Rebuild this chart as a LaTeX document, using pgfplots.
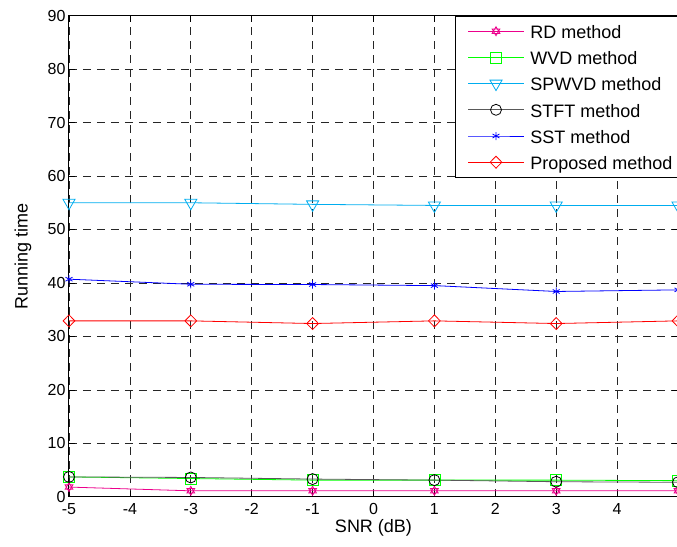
\documentclass[border=0pt]{standalone}
\usepackage{fontspec}
\setmainfont{Liberation Sans}
\usepackage{pgfplots}
\pgfplotsset{compat=1.18}

% star of David marker (two triangles)
\pgfdeclareplotmark{hexagram}{%
  \pgfpathmoveto{\pgfqpoint{0pt}{\pgfplotmarksize}}%
  \pgfpathlineto{\pgfqpointpolar{210}{\pgfplotmarksize}}%
  \pgfpathlineto{\pgfqpointpolar{330}{\pgfplotmarksize}}%
  \pgfpathclose
  \pgfpathmoveto{\pgfqpoint{0pt}{-\pgfplotmarksize}}%
  \pgfpathlineto{\pgfqpointpolar{30}{\pgfplotmarksize}}%
  \pgfpathlineto{\pgfqpointpolar{150}{\pgfplotmarksize}}%
  \pgfpathclose
  \pgfusepathqstroke}

\definecolor{stftline}{gray}{0.35}

\begin{document}
\begin{tikzpicture}
\useasboundingbox (-69pt,-49.5pt) rectangle (608pt,496.7pt);
\clip (-69pt,-49.5pt) rectangle (608pt,496.7pt);
\begin{axis}[
    scale only axis,
    width=609pt, height=481pt,
    xmin=-5, xmax=5, ymin=0, ymax=90,
    xtick={-5,...,4}, ytick={0,10,...,90},
    axis line style={line width=1pt},
    tick align=inside, major tick length=6pt,
    tick style={black, line width=0.6pt},
    grid=major,
    major grid style={black!85, line width=0.6pt, dash pattern=on 8pt off 6pt},
    /pgf/number format/assume math mode=true,
    tick label style={font=\fontsize{16}{19}\selectfont},
    xticklabel style={yshift=-3pt},
    label style={font=\fontsize{18}{21}\selectfont},
    xlabel={SNR (dB)},
    ylabel={Running time},
    xlabel style={at={(axis description cs:0.5,-0.0655)}, anchor=center},
    ylabel style={at={(axis description cs:-0.0755,0.5)}, anchor=center},
    every axis plot/.append style={line width=0.8pt},
    legend image code/.code={%
        \path (0pt,0pt);
        \draw[mark repeat=2, mark phase=2] plot coordinates {(7pt,0pt) (35pt,0pt) (63pt,0pt)};},
    legend cell align=left,
    legend style={at={(1,1)}, anchor=north east, draw=black, line width=1pt,
        font=\fontsize{18}{21}\selectfont,
        inner xsep=5pt, inner ysep=3.7pt, row sep=3.6pt, column sep=6pt,
        nodes={inner xsep=0pt, inner ysep=0pt, text height=18.6pt, text depth=4pt}},
]
\addplot[magenta, mark=hexagram, mark size=4.5pt] coordinates {
    (-5,1.8) (-3,1.1) (-1,1.1) (1,1.1) (3,1.1) (5,1.1)};
\addlegendentry{RD method}
\addplot[green, mark=square, mark size=5.5pt, mark options={solid}] coordinates {
    (-5,3.7) (-3,3.4) (-1,3.1) (1,3.1) (3,3.1) (5,3.0)};
\addlegendentry{WVD method}
\addplot[cyan, mark=triangle, mark size=7pt, mark options={rotate=180}] coordinates {
    (-5,55.0) (-3,55.0) (-1,54.7) (1,54.5) (3,54.5) (5,54.5)};
\addlegendentry{SPWVD method}
\addplot[stftline, mark=o, mark size=5.5pt, mark options={black}] coordinates {
    (-5,3.7) (-3,3.6) (-1,3.3) (1,3.1) (3,2.8) (5,2.7)};
\addlegendentry{STFT method}
\addplot[blue, mark=asterisk, mark size=4pt] coordinates {
    (-5,40.7) (-3,39.75) (-1,39.7) (1,39.5) (3,38.4) (5,38.7)};
\addlegendentry{SST method}
\addplot[red, mark=diamond, mark size=6pt, mark options={xscale=1.3}] coordinates {
    (-5,32.9) (-3,32.9) (-1,32.4) (1,32.9) (3,32.4) (5,32.9)};
\addlegendentry{Proposed method}
\end{axis}
\end{tikzpicture}
\end{document}
